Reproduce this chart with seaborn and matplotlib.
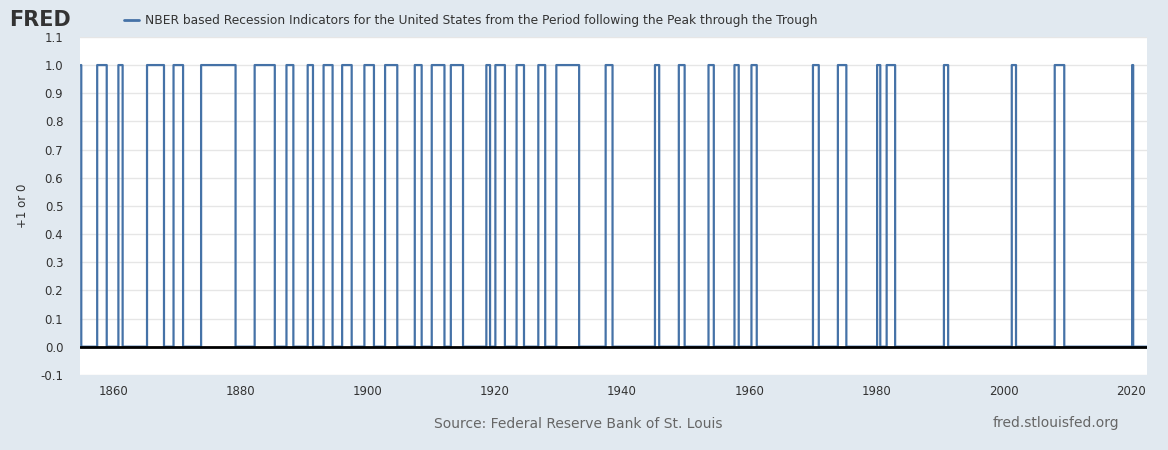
import matplotlib
matplotlib.use("Agg")
import matplotlib.pyplot as plt
import seaborn as sns
import pandas as pd
import numpy as np

peaks = ["1857-06","1860-10","1865-04","1869-06","1873-10","1882-03","1887-03","1890-07",
         "1893-01","1895-12","1899-06","1902-09","1907-05","1910-01","1913-01","1918-08",
         "1920-01","1923-05","1926-10","1929-08","1937-05","1945-02","1948-11","1953-07",
         "1957-08","1960-04","1969-12","1973-11","1980-01","1981-07","1990-07","2001-03",
         "2007-12","2020-02"]
troughs = ["1858-12","1861-06","1867-12","1870-12","1879-03","1885-05","1888-04","1891-05",
           "1894-06","1897-06","1900-12","1904-08","1908-06","1912-01","1914-12","1919-03",
           "1921-07","1924-07","1927-11","1933-03","1938-06","1945-10","1949-10","1954-05",
           "1958-04","1961-02","1970-11","1975-03","1980-07","1982-11","1991-03","2001-11",
           "2009-06","2020-04"]
start, end = "1854-12", "2022-10"

months = pd.period_range(start, end, freq="M")
vals = np.zeros(len(months))
vals[0] = 1
for p, t in zip(peaks, troughs):
    m = (months > pd.Period(p, "M")) & (months <= pd.Period(t, "M"))
    vals[m] = 1
df = pd.DataFrame({"x": months.year + (months.month - 1) / 12.0, "y": vals})

sns.set_style("white")
fig = plt.figure(figsize=(11.68, 4.5), dpi=100)
fig.patch.set_facecolor("#e1e9f0")
ax = fig.add_axes([0.0685, 0.167, 0.9135, 0.751])
ax.set_facecolor("white")
sns.lineplot(data=df, x="x", y="y", ax=ax, color="#4572a7", linewidth=1.6,
             drawstyle="steps-post")
ax.set_xlim(1854.8, 2022.5)
ax.set_ylim(-0.1, 1.1)
ax.set_yticks(np.round(np.arange(-0.1, 1.11, 0.1), 1))
ax.set_yticklabels([f"{v:.1f}" for v in np.arange(-0.1, 1.11, 0.1)], fontsize=8.5, color="#333333")
ax.set_xticks(range(1860, 2021, 20))
ax.tick_params(axis="x", labelsize=8.5, colors="#333333", length=4)
ax.tick_params(axis="y", length=0, pad=12)
ax.grid(axis="y", color="#e6e6e6", linewidth=1)
ax.axhline(0, color="black", linewidth=2)
for s in ax.spines.values():
    s.set_visible(False)
ax.set_xlabel("")
ax.set_ylabel("+1 or 0", fontsize=8.5, color="#333333", labelpad=8)

fig.text(0.008, 0.955, "FRED", fontsize=15, fontweight="bold", color="#333333", va="center")
fig.add_artist(plt.Line2D([0.106, 0.119], [0.955, 0.955], color="#4572a7", linewidth=2))
fig.text(0.124, 0.955, "NBER based Recession Indicators for the United States from the Period following the Peak through the Trough",
         fontsize=8.8, color="#333333", va="center")
fig.text(0.495, 0.05, "Source: Federal Reserve Bank of St. Louis", fontsize=10, color="#666666", ha="center")
fig.text(0.958, 0.05, "fred.stlouisfed.org", fontsize=10, color="#666666", ha="right")
fig.savefig("out.png", dpi=100, facecolor=fig.get_facecolor())
